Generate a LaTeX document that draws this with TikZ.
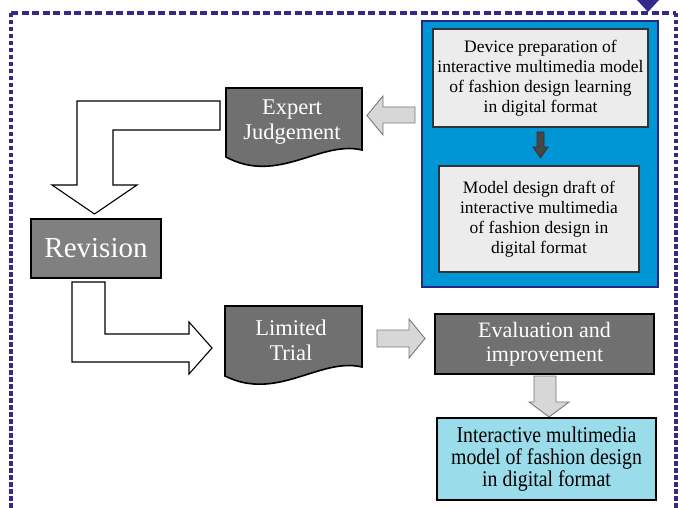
\documentclass[tikz,border=0pt]{standalone}
\usepackage{fontspec}
\setmainfont{Liberation Serif}
\newfontfamily\condfont[FakeStretch=0.88]{Liberation Serif}
\definecolor{framecol}{RGB}{52,42,140}
\definecolor{boxgray}{RGB}{112,112,112}
\definecolor{revgray}{RGB}{128,128,128}
\definecolor{bluefill}{RGB}{0,150,214}
\definecolor{blueedge}{RGB}{40,40,130}
\definecolor{innerfill}{RGB}{236,236,236}
\definecolor{finalfill}{RGB}{155,220,235}
\definecolor{lightarrow}{RGB}{215,215,215}
\definecolor{lightedge}{RGB}{120,120,120}
\definecolor{darkarrow}{RGB}{70,70,70}
\begin{document}
\begin{tikzpicture}[x=1pt,y=-1pt,
  frameline/.style={draw=framecol,line width=3.5pt},
  graybox/.style={draw=black,line width=1.6pt,fill=boxgray,text=white,align=center,inner sep=0pt},
  doctext/.style={text=white,align=center,inner sep=0pt,font=\fontsize{22.5}{25}\selectfont},
  docshape/.style={draw=black,line width=1.6pt,fill=boxgray},
  innerbox/.style={draw=black!80,line width=1.4pt,fill=innerfill,align=center,inner sep=0pt,font=\fontsize{17.5}{20}\selectfont},
  lightarr/.style={draw=lightedge,line width=0.9pt,fill=lightarrow},
  whitearr/.style={draw=black,line width=1.1pt,fill=white},
  darkarr/.style={draw=black!80,line width=0.8pt,fill=darkarrow}]
\useasboundingbox (0,0) rectangle (683,508);
% dashed frame
\draw[frameline,dash pattern=on 7pt off 3.5pt] (11,13) -- (676,13);
\draw[frameline,dash pattern=on 4.5pt off 2.5pt] (11,13) -- (11,508);
\draw[frameline,dash pattern=on 4.5pt off 2.5pt] (676,13) -- (676,508);
\fill[framecol] (637,0) -- (659,0) -- (648,12) -- cycle;
% blue stage box
\node[draw=blueedge,line width=2pt,fill=bluefill,minimum width=236,minimum height=266,inner sep=0pt] (stage) at (540,154) {};
\node[innerbox,minimum width=215,minimum height=98] (prep) at (540.5,78)
  {Device preparation of\\interactive multimedia model\\of fashion design learning\\in digital format};
\node[innerbox,minimum width=200,minimum height=106] (draft) at (539,219)
  {Model design draft of\\interactive multimedia\\of fashion design in\\digital format};
\draw[darkarr] (537,132) -- (544,132) -- (544,147) -- (548,147) -- (540.5,158) -- (533,147) -- (537,147) -- cycle;
% expert judgement (document shape)
\draw[docshape] (226,88) -- (362,88) -- (362,150) .. controls (320,140) and (278,185) .. (226,157) -- cycle;
\node[doctext] (expert) at (292,122) {Expert\\Judgement};
\draw[lightarr] (415,107) -- (383,107) -- (383,96) -- (367,115.5) -- (383,135) -- (383,123) -- (415,123) -- cycle;
% L arrow to revision
\draw[whitearr] (220,101) -- (77,101) -- (77,185) -- (52,185) -- (94.5,214) -- (137,185) -- (113,185) -- (113,130) -- (220,130) -- cycle;
% revision
\node[draw=black,line width=1.6pt,fill=revgray,text=white,inner sep=0pt,minimum width=130,minimum height=59,font=\fontsize{29}{32}\selectfont] (revision) at (96,248.5) {Revision};
% L arrow to limited trial
\draw[whitearr] (72,282) -- (105,282) -- (105,334) -- (189,334) -- (189,322) -- (212,348) -- (189,374) -- (189,362) -- (72,362) -- cycle;
% limited trial (document shape)
\draw[docshape] (225,306) -- (362,306) -- (362,367) .. controls (320,357) and (277,402) .. (225,376) -- cycle;
\node[doctext] (limited) at (291,340) {Limited\\Trial};
\draw[lightarr] (377,330) -- (409,330) -- (409,319) -- (425,338.5) -- (409,358) -- (409,347) -- (377,347) -- cycle;
% evaluation
\node[graybox,minimum width=219,minimum height=60,font=\fontsize{22}{24}\selectfont] (eval) at (544.5,344) {Evaluation and\\improvement};
\draw[lightarr] (534,376) -- (556,376) -- (556,402) -- (569,402) -- (549,417) -- (529,402) -- (534,402) -- cycle;
% final model
\node[draw=black,line width=1.6pt,fill=finalfill,align=center,inner sep=0pt,minimum width=219,minimum height=82,font=\condfont\fontsize{22.5}{22}\selectfont] (final) at (546.5,459)
  {Interactive multimedia\\model of fashion design\\in digital format};
\end{tikzpicture}
\end{document}
